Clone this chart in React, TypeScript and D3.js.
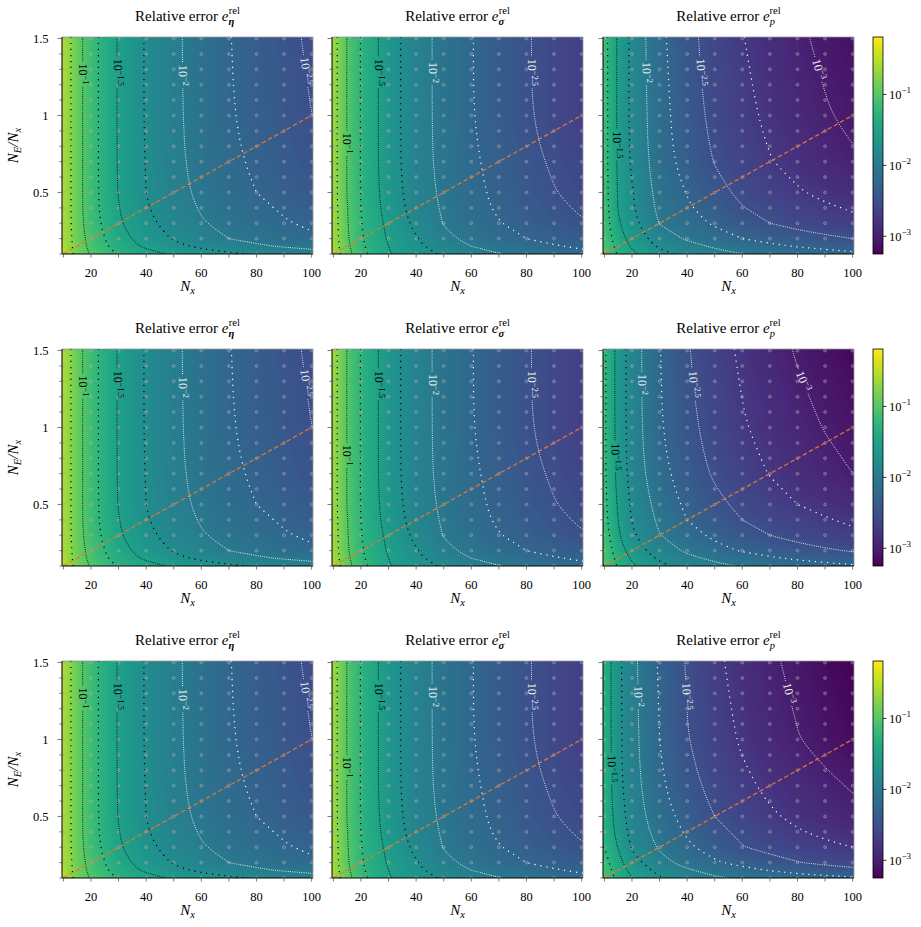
import React from 'react';
import * as d3 from 'd3';

// ---------------- data (log10 of relative error) ----------------
// columns: N_x grid, rows: N_E/N_x grid (bottom to top)
const NX_GRID = [10, 15, 20, 30, 40, 50, 60, 70, 80, 90, 100];
const RATIO_GRID = [0.1, 0.15, 0.2, 0.3, 0.4, 0.5, 0.7, 1.0, 1.5];

const ETA_LOG_ERR = [
  [-0.52, -0.84, -1.02, -1.27, -1.42, -1.53, -1.63, -1.71, -1.78, -1.84, -1.89],
  [-0.55, -0.86, -1.07, -1.36, -1.54, -1.69, -1.80, -1.89, -1.96, -2.02, -2.07],
  [-0.56, -0.87, -1.09, -1.41, -1.61, -1.77, -1.89, -2.00, -2.08, -2.15, -2.21],
  [-0.57, -0.89, -1.13, -1.47, -1.69, -1.85, -1.98, -2.08, -2.16, -2.23, -2.29],
  [-0.57, -0.90, -1.15, -1.49, -1.73, -1.89, -2.02, -2.12, -2.20, -2.28, -2.35],
  [-0.57, -0.90, -1.15, -1.51, -1.75, -1.92, -2.05, -2.16, -2.25, -2.33, -2.40],
  [-0.57, -0.90, -1.15, -1.52, -1.76, -1.94, -2.08, -2.20, -2.29, -2.38, -2.46],
  [-0.57, -0.90, -1.15, -1.52, -1.77, -1.95, -2.10, -2.23, -2.33, -2.42, -2.50],
  [-0.57, -0.90, -1.15, -1.52, -1.77, -1.95, -2.11, -2.24, -2.35, -2.45, -2.53],
];

const SIGMA_LOG_ERR = [
  [-0.59, -0.91, -1.17, -1.48, -1.65, -1.78, -1.89, -1.99, -2.07, -2.14, -2.20],
  [-0.61, -0.94, -1.21, -1.50, -1.70, -1.87, -2.00, -2.09, -2.17, -2.23, -2.28],
  [-0.62, -0.97, -1.22, -1.53, -1.73, -1.94, -2.07, -2.17, -2.25, -2.32, -2.39],
  [-0.63, -0.98, -1.24, -1.56, -1.81, -2.01, -2.13, -2.24, -2.33, -2.41, -2.48],
  [-0.64, -0.99, -1.25, -1.60, -1.85, -2.03, -2.17, -2.28, -2.37, -2.45, -2.53],
  [-0.65, -1.01, -1.26, -1.62, -1.87, -2.05, -2.19, -2.30, -2.40, -2.49, -2.57],
  [-0.65, -1.01, -1.26, -1.64, -1.89, -2.07, -2.21, -2.33, -2.44, -2.53, -2.61],
  [-0.65, -1.01, -1.26, -1.64, -1.89, -2.08, -2.24, -2.37, -2.48, -2.59, -2.67],
  [-0.65, -1.01, -1.26, -1.64, -1.89, -2.08, -2.24, -2.37, -2.48, -2.59, -2.68],
];

const P_LOG_ERR_TOP = [
  [-0.99, -1.28, -1.45, -1.68, -1.82, -1.92, -2.00, -2.07, -2.12, -2.16, -2.20],
  [-1.04, -1.34, -1.53, -1.78, -1.92, -2.03, -2.12, -2.20, -2.26, -2.31, -2.36],
  [-1.08, -1.39, -1.60, -1.87, -2.03, -2.15, -2.25, -2.33, -2.39, -2.45, -2.50],
  [-1.12, -1.47, -1.67, -2.01, -2.16, -2.28, -2.40, -2.50, -2.58, -2.64, -2.70],
  [-1.14, -1.51, -1.72, -2.06, -2.22, -2.37, -2.49, -2.58, -2.65, -2.72, -2.77],
  [-1.15, -1.52, -1.73, -2.09, -2.26, -2.43, -2.55, -2.65, -2.73, -2.80, -2.86],
  [-1.16, -1.54, -1.79, -2.14, -2.35, -2.51, -2.63, -2.74, -2.82, -2.90, -2.97],
  [-1.16, -1.54, -1.81, -2.16, -2.39, -2.57, -2.69, -2.80, -2.90, -2.98, -3.05],
  [-1.16, -1.54, -1.81, -2.19, -2.43, -2.60, -2.74, -2.86, -2.96, -3.05, -3.12],
];

const P_LOG_ERR_MID = [
  [-0.99, -1.28, -1.46, -1.69, -1.84, -1.94, -2.02, -2.09, -2.14, -2.18, -2.22],
  [-1.04, -1.33, -1.53, -1.79, -1.94, -2.05, -2.14, -2.22, -2.28, -2.33, -2.38],
  [-1.08, -1.38, -1.62, -1.88, -2.04, -2.17, -2.27, -2.34, -2.41, -2.47, -2.52],
  [-1.13, -1.47, -1.71, -1.99, -2.16, -2.30, -2.41, -2.50, -2.58, -2.64, -2.70],
  [-1.17, -1.50, -1.76, -2.05, -2.25, -2.39, -2.50, -2.59, -2.66, -2.73, -2.79],
  [-1.19, -1.53, -1.79, -2.09, -2.30, -2.44, -2.56, -2.66, -2.75, -2.82, -2.88],
  [-1.21, -1.58, -1.85, -2.17, -2.38, -2.53, -2.65, -2.76, -2.85, -2.93, -3.00],
  [-1.21, -1.59, -1.87, -2.23, -2.44, -2.60, -2.73, -2.83, -2.93, -3.01, -3.08],
  [-1.21, -1.59, -1.87, -2.24, -2.48, -2.65, -2.79, -2.91, -3.02, -3.11, -3.19],
];

const P_LOG_ERR_BOTTOM = [
  [-1.04, -1.33, -1.49, -1.73, -1.87, -1.97, -2.03, -2.09, -2.14, -2.18, -2.22],
  [-1.10, -1.38, -1.57, -1.82, -1.97, -2.09, -2.18, -2.26, -2.33, -2.39, -2.44],
  [-1.16, -1.42, -1.66, -1.92, -2.09, -2.22, -2.32, -2.41, -2.49, -2.55, -2.60],
  [-1.25, -1.51, -1.77, -2.03, -2.21, -2.36, -2.49, -2.57, -2.64, -2.70, -2.75],
  [-1.29, -1.59, -1.83, -2.09, -2.28, -2.44, -2.55, -2.65, -2.73, -2.80, -2.86],
  [-1.30, -1.62, -1.86, -2.14, -2.34, -2.50, -2.62, -2.72, -2.80, -2.88, -2.94],
  [-1.31, -1.68, -1.90, -2.21, -2.42, -2.58, -2.70, -2.80, -2.88, -2.95, -3.02],
  [-1.32, -1.69, -1.92, -2.25, -2.49, -2.65, -2.78, -2.90, -2.99, -3.08, -3.16],
  [-1.32, -1.69, -1.93, -2.28, -2.52, -2.70, -2.84, -2.96, -3.06, -3.16, -3.24],
];

// sample points (grey circles)
const SAMPLE_NX = [10, 20, 30, 40, 50, 60, 70, 80, 90, 100];
const SAMPLE_RATIO = [0.1, 0.2, 0.3, 0.4, 0.5, 0.6, 0.7, 0.8, 0.9, 1.0, 1.1, 1.2, 1.3, 1.4, 1.5];
// orange dashed reference line
const DIAG_NX = [10, 100];
const DIAG_RATIO = [0.1, 1.0];

const X_TICKS = [10, 20, 30, 40, 50, 60, 70, 80, 90, 100];
const X_TICK_LABELS = [20, 40, 60, 80, 100];
const Y_TICKS = [0.1, 0.2, 0.3, 0.4, 0.5, 0.6, 0.7, 0.8, 0.9, 1.0, 1.1, 1.2, 1.3, 1.4, 1.5];
const Y_TICK_LABELS = [0.5, 1, 1.5];
const CONTOUR_LEVELS = [-3, -2.75, -2.5, -2.25, -2, -1.75, -1.5, -1.25, -1, -0.75];
const CBAR_EXPONENTS = [-3, -2, -1];
const CB_LOG_MIN = -3.25;
const CB_LOG_MAX = -0.19;

const QUANTITIES = ['eta', 'sigma', 'p'];
const LABEL_POS: Record<string, { level: number; r: number }[]> = {
  eta: [{ level: -1, r: 1.27 }, { level: -1.5, r: 1.28 }, { level: -2, r: 1.26 }, { level: -2.5, r: 1.29 }],
  sigma: [{ level: -1, r: 0.82 }, { level: -1.5, r: 1.28 }, { level: -2, r: 1.28 }, { level: -2.5, r: 1.28 }],
  p: [{ level: -1.5, r: 0.81 }, { level: -2, r: 1.28 }, { level: -2.5, r: 1.28 }, { level: -3, r: 1.3 }],
};

// ---------------- layout ----------------
const FONT = '"Liberation Serif", "Times New Roman", "DejaVu Serif", serif';
const PLOT_W = 251;
const PLOT_H = 217;
const COL_LEFTS = [62, 332, 603];
const ROW_TOPS = [37, 349, 661];
const CB_X = 873;
const CB_W = 10;
const X_DOMAIN = [9.5, 100.5];
const Y_DOMAIN = [0.1, 1.51];

const cnorm = (v: number) => Math.max(0, Math.min(1, (v - CB_LOG_MIN) / (CB_LOG_MAX - CB_LOG_MIN)));
const colorOf = (v: number) => d3.interpolateViridis(cnorm(v));

function ringToLines(ring: number[][], nx: number, ny: number): number[][][] {
  const pts = ring.slice();
  if (pts.length < 2) return [];
  const f = pts[0], l = pts[pts.length - 1];
  if (!(f[0] === l[0] && f[1] === l[1])) pts.push(f);
  const onB = (p: number[]) => p[0] === 0 || p[0] === nx || p[1] === 0 || p[1] === ny;
  const segs: number[][][] = [];
  let cur: number[][] = [];
  for (let i = 0; i < pts.length - 1; i++) {
    const a = pts[i], b = pts[i + 1];
    if (onB(a) && onB(b)) {
      if (cur.length > 1) segs.push(cur);
      cur = [];
    } else {
      if (cur.length === 0) cur.push(a);
      cur.push(b);
    }
  }
  if (cur.length > 1) segs.push(cur);
  if (segs.length > 1) {
    const first = segs[0], last = segs[segs.length - 1];
    const lp = last[last.length - 1];
    if (lp[0] === first[0][0] && lp[1] === first[0][1]) {
      segs[0] = last.concat(first.slice(1));
      segs.pop();
    }
  }
  // tidy the half-cell stubs that marching squares adds at the grid border
  return segs.map((seg) => {
    let s = seg.map((p) => p.slice());
    const fixEnd = (idx: number, prevIdx: number) => {
      const e = s[idx], pv = s[prevIdx];
      if (e[1] === 0) return false;
      if (e[1] === ny) e[0] = pv[0];
      else if (e[0] === 0 || e[0] === nx) e[1] = pv[1];
      return true;
    };
    if (s.length > 2 && onB(s[0]) && !fixEnd(0, 1)) s = s.slice(1);
    if (s.length > 2 && onB(s[s.length - 1]) && !fixEnd(s.length - 1, s.length - 2)) s = s.slice(0, -1);
    return s;
  }).filter((s) => s.length > 1);
}

function expLabel(level: number) {
  return '\u2212' + String(Math.abs(level));
}

function Panel({ id, left, top, q, data, showY }: any) {
  const x = d3.scaleLinear().domain(X_DOMAIN).range([left, left + PLOT_W]);
  const y = d3.scaleLinear().domain(Y_DOMAIN).range([top + PLOT_H, top]);
  const nx = NX_GRID.length, ny = RATIO_GRID.length;
  const gx = d3.scaleLinear()
    .domain([0, ...NX_GRID.map((_, i) => i + 0.5), nx])
    .range([X_DOMAIN[0], ...NX_GRID, X_DOMAIN[1]]);
  const gy = d3.scaleLinear()
    .domain([0, ...RATIO_GRID.map((_, j) => j + 0.5), ny])
    .range([Y_DOMAIN[0], ...RATIO_GRID, Y_DOMAIN[1]]);
  const proj = (p: number[]) => [x(gx(p[0])), y(gy(p[1]))];
  const flat = (data as number[][]).flat();

  const fillThresholds = d3.range(-3.4, -0.1, 0.02);
  const bands = d3.contours().size([nx, ny]).thresholds(fillThresholds)(flat);
  const bandPath = (coords: any) => {
    let d = '';
    for (const poly of coords) for (const ring of poly) {
      ring.forEach((p: number[], i: number) => {
        const [a, b] = proj(p);
        d += (i ? 'L' : 'M') + a.toFixed(2) + ',' + b.toFixed(2);
      });
      d += 'Z';
    }
    return d;
  };

  const iso = d3.contours().size([nx, ny]).thresholds(CONTOUR_LEVELS)(flat);
  const lineGen = d3.line().curve(d3.curveBasis);
  const isoLines = iso.map((c: any) => ({
    level: c.value,
    lines: c.coordinates
      .flatMap((poly: any) => poly.flatMap((ring: any) => ringToLines(ring, nx, ny)))
      .map((l: number[][]) => l.map(proj)),
  }));

  const fsMain = 12, fsSup = 8.4;
  const labels = LABEL_POS[q].map((spec) => {
    const entry = isoLines.find((e: any) => Math.abs(e.level - spec.level) < 1e-9);
    if (!entry) return null;
    const ty = y(spec.r);
    for (const line of entry.lines) {
      for (let i = 0; i < line.length - 1; i++) {
        const a = line[i], b = line[i + 1];
        if ((a[1] - ty) * (b[1] - ty) <= 0 && a[1] !== b[1]) {
          const t = (ty - a[1]) / (b[1] - a[1]);
          const lx = a[0] + t * (b[0] - a[0]);
          let dx = b[0] - a[0], dy = b[1] - a[1];
          if (dy < 0) { dx = -dx; dy = -dy; }
          let ang = (Math.atan2(dy, dx) * 180) / Math.PI;
          if (ang > 100) ang -= 180;
          const ex = expLabel(spec.level);
          const supW = ex.length === 2 ? 1.064 * fsSup : 1.814 * fsSup;
          const w = fsMain + supW;
          return { lx, ly: ty, ang, ex, w, level: spec.level };
        }
      }
    }
    return null;
  }).filter(Boolean) as any[];

  const bottom = top + PLOT_H;
  const right = left + PLOT_W;
  const cxMid = left + PLOT_W / 2;
  const subChar = q === 'eta' ? '\u03B7' : q === 'sigma' ? '\u03C3' : 'p';
  const subBold = q !== 'p';
  const meanColor = colorOf(d3.mean(flat) as number);

  return (
    <g>
      <defs>
        <clipPath id={`clip-${id}`}>
          <rect x={left} y={top} width={PLOT_W} height={PLOT_H} />
        </clipPath>
        <mask id={`mask-${id}`} maskUnits="userSpaceOnUse" x={0} y={0} width={921} height={927}>
          <rect x={0} y={0} width={921} height={927} fill="#fff" />
          {labels.map((lb, i) => (
            <rect key={i} x={-lb.w / 2 - 2} y={-5.5} width={lb.w + 4} height={11} fill="#000"
              transform={`translate(${lb.lx},${lb.ly}) rotate(${lb.ang})`} />
          ))}
        </mask>
      </defs>

      {/* title */}
      <text x={cxMid} y={top - 16.5} textAnchor="middle" fontSize={15} fill="#000">
        {'Relative error '}
        <tspan fontStyle="italic">e</tspan>
        <tspan fontSize={10.5} dy={4} fontStyle="italic" fontWeight={subBold ? 'bold' : 'normal'}>{subChar}</tspan>
        <tspan fontSize={10.5} dx={-5.3} dy={-10.5}>rel</tspan>
      </text>

      <g clipPath={`url(#clip-${id})`}>
        <rect x={left} y={top} width={PLOT_W} height={PLOT_H} fill={meanColor} />
        {bands.map((c: any, i: number) => (
          <path key={i} d={bandPath(c.coordinates)} fill={colorOf(c.value + 0.01)} fillRule="evenodd" />
        ))}
        {SAMPLE_NX.flatMap((n) => SAMPLE_RATIO.map((r) => (
          <circle key={`${n}-${r}`} cx={x(n)} cy={y(r)} r={1.5} fill="rgb(170,170,170)" fillOpacity={0.3}
            stroke="rgb(175,175,175)" strokeOpacity={0.6} strokeWidth={0.7} />
        )))}
        <g mask={`url(#mask-${id})`}>
          {isoLines.map((e: any) => {
            const labeled = Math.abs(e.level * 2 - Math.round(e.level * 2)) < 1e-9;
            const col = e.level >= -1.8 ? '#000' : '#fff';
            return e.lines.map((l: number[][], i: number) => (
              <path key={`${e.level}-${i}`} d={lineGen(l as any) || ''} fill="none" stroke={col}
                strokeWidth={labeled ? 0.9 : 1.2}
                strokeDasharray={labeled ? '0.9 1.3' : '1.2 4.8'} />
            ));
          })}
        </g>
        {labels.map((lb, i) => (
          <text key={i} transform={`translate(${lb.lx},${lb.ly}) rotate(${lb.ang})`} y={3.5}
            textAnchor="middle" fontSize={fsMain} fill={lb.level >= -1.8 ? '#000' : '#eeeeee'}>
            10<tspan fontSize={fsSup} dy={-4.2}>{lb.ex}</tspan>
          </text>
        ))}
        <line x1={x(DIAG_NX[0])} y1={y(DIAG_RATIO[0])} x2={x(DIAG_NX[1])} y2={y(DIAG_RATIO[1])}
          stroke="#e8772e" strokeWidth={1.2} strokeDasharray="4.5 2.6" />
      </g>

      {/* spines */}
      <line x1={left} y1={top} x2={right} y2={top} stroke="#999" strokeWidth={0.8} />
      <line x1={right} y1={top} x2={right} y2={bottom} stroke="#999" strokeWidth={0.8} />
      <line x1={left} y1={top} x2={left} y2={bottom} stroke="#000" strokeWidth={1} />
      <line x1={left} y1={bottom} x2={right} y2={bottom} stroke="#000" strokeWidth={1} />

      {/* x ticks */}
      {X_TICKS.map((t) => (
        <line key={t} x1={x(t)} x2={x(t)} y1={bottom} y2={bottom + 3.5} stroke="#555" strokeWidth={0.8} />
      ))}
      {X_TICK_LABELS.map((t) => (
        <text key={t} x={x(t)} y={bottom + 23} textAnchor="middle" fontSize={12.5} fill="#000">{t}</text>
      ))}
      <text x={cxMid} y={bottom + 37} textAnchor="middle" fontSize={15} fontStyle="italic" fill="#000">
        N<tspan fontSize={10.5} dy={3}>x</tspan>
      </text>

      {/* y ticks */}
      {Y_TICKS.map((t) => {
        const major = Y_TICK_LABELS.some((m) => Math.abs(m - t) < 1e-9);
        return (
          <line key={t} x1={left} x2={left - (major ? 4.5 : 2.6)} y1={y(t)} y2={y(t)} stroke="#555" strokeWidth={0.8} />
        );
      })}
      {showY && Y_TICK_LABELS.map((t) => (
        <text key={t} x={left - 13.5} y={y(t) + 4.3} textAnchor="end" fontSize={12.5} fill="#000">{String(t)}</text>
      ))}
      {showY && (
        <text transform={`translate(18,${top + PLOT_H / 2}) rotate(-90)`} textAnchor="middle"
          fontSize={15} fontStyle="italic" fill="#000">
          N<tspan fontSize={10.5} dy={3}>E</tspan><tspan dy={-3}>/N</tspan><tspan fontSize={10.5} dy={3}>x</tspan>
        </text>
      )}
    </g>
  );
}

function Colorbar({ top }: { top: number }) {
  const s = d3.scaleLog().domain([10 ** CB_LOG_MIN, 10 ** CB_LOG_MAX]).range([top + PLOT_H, top]);
  return (
    <g>
      <rect x={CB_X} y={top} width={CB_W} height={PLOT_H} fill="url(#viridisGrad)" stroke="#000" strokeWidth={0.8} />
      {CBAR_EXPONENTS.map((e) => {
        const yy = s(10 ** e);
        return (
          <g key={e}>
            <line x1={CB_X + CB_W} x2={CB_X + CB_W + 3.5} y1={yy} y2={yy} stroke="#000" strokeWidth={0.8} />
            <text x={CB_X + CB_W + 6} y={yy + 4.3} fontSize={12.5} fill="#000">
              10<tspan fontSize={9} dy={-5.5}>{'\u2212' + Math.abs(e)}</tspan>
            </text>
          </g>
        );
      })}
    </g>
  );
}

export default function App() {
  const rowsData: Record<string, number[][]>[] = [
    { eta: ETA_LOG_ERR, sigma: SIGMA_LOG_ERR, p: P_LOG_ERR_TOP },
    { eta: ETA_LOG_ERR, sigma: SIGMA_LOG_ERR, p: P_LOG_ERR_MID },
    { eta: ETA_LOG_ERR, sigma: SIGMA_LOG_ERR, p: P_LOG_ERR_BOTTOM },
  ];
  const stops = d3.range(0, 1.0001, 0.05);
  return (
    <svg width={921} height={927} style={{ position: 'absolute', left: 0, top: 0, fontFamily: FONT }} fontFamily={FONT}>
      <rect x={0} y={0} width={921} height={927} fill="#fff" />
      <defs>
        <linearGradient id="viridisGrad" x1="0" y1="1" x2="0" y2="0">
          {stops.map((t) => (
            <stop key={t} offset={t} stopColor={d3.interpolateViridis(t)} />
          ))}
        </linearGradient>
      </defs>
      {ROW_TOPS.map((top, ri) => (
        <g key={ri}>
          {QUANTITIES.map((q, ci) => (
            <Panel key={q} id={`r${ri}c${ci}`} left={COL_LEFTS[ci]} top={top} q={q}
              data={rowsData[ri][q]} showY={ci === 0} />
          ))}
          <Colorbar top={top} />
        </g>
      ))}
    </svg>
  );
}
